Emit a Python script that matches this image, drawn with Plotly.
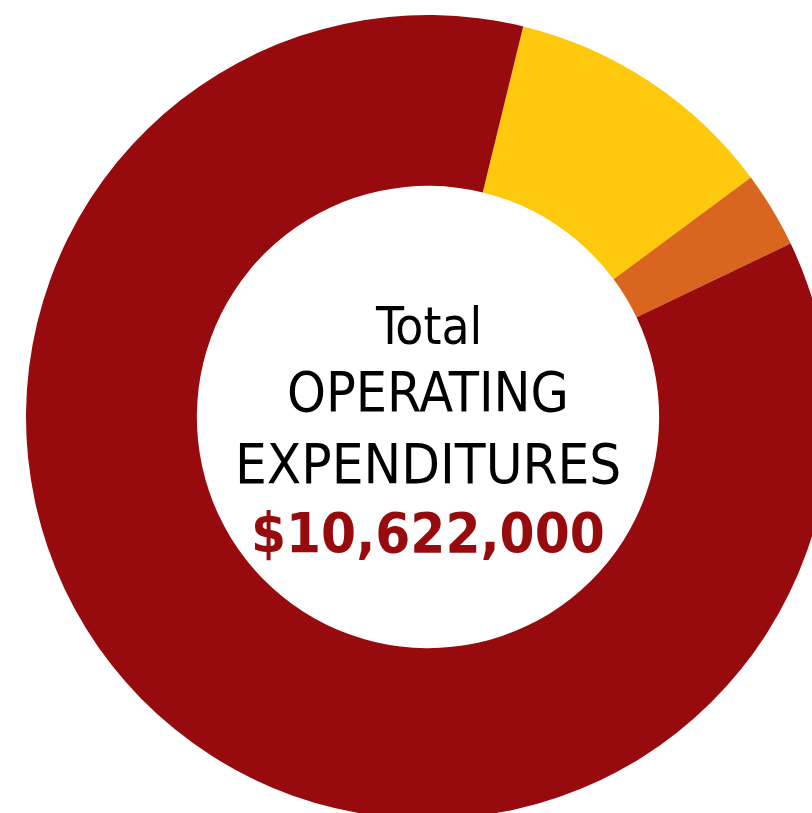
import plotly.graph_objects as go

# Data
categories = ["Category B", "Category C", "Category A"]
values = [1172000, 325000, 9125000]
colors = ["#FEC90C", "#D9651F", "#970A0E"]
total_label = "$10,622,000"
center_lines = ["Total", "OPERATING", "EXPENDITURES"]

W, H = 856, 838
R = 402
cx, cy = 428, 417

fig = go.Figure(go.Pie(
    labels=categories,
    values=values,
    hole=0.575,
    sort=False,
    direction="clockwise",
    rotation=13.7,
    marker=dict(colors=colors, line=dict(width=0)),
    textinfo="none",
    hoverinfo="label+value",
    domain=dict(x=[(cx - R) / W, (cx + R) / W], y=[1 - (cy + R) / H, 1 - (cy - R) / H]),
))

font_family = "Liberation Sans Narrow, DejaVu Sans Condensed, Arial Narrow, sans-serif"
line_y = [326, 392, 464]
sizes = [51, 55, 56]
for txt, py, sz in zip(center_lines, line_y, sizes):
    fig.add_annotation(text=txt, x=cx / W, y=1 - py / H, xref="paper", yref="paper",
                       showarrow=False, xanchor="center", yanchor="middle",
                       font=dict(family=font_family, size=sz, color="#000000"))
fig.add_annotation(text="<b>" + total_label + "</b>", x=cx / W, y=1 - 532 / H,
                   xref="paper", yref="paper", showarrow=False,
                   xanchor="center", yanchor="middle",
                   font=dict(family=font_family, size=56, color="#970A0E"))

fig.update_layout(width=W, height=H, margin=dict(l=0, r=0, t=0, b=0),
                  showlegend=False, paper_bgcolor="white", plot_bgcolor="white")

fig.write_html("out.html", config={"displayModeBar": False}, post_script=(
    "document.documentElement.style.overflow='hidden';"
    "document.body.style.overflow='hidden';"
    "document.body.style.margin='0';"
))
